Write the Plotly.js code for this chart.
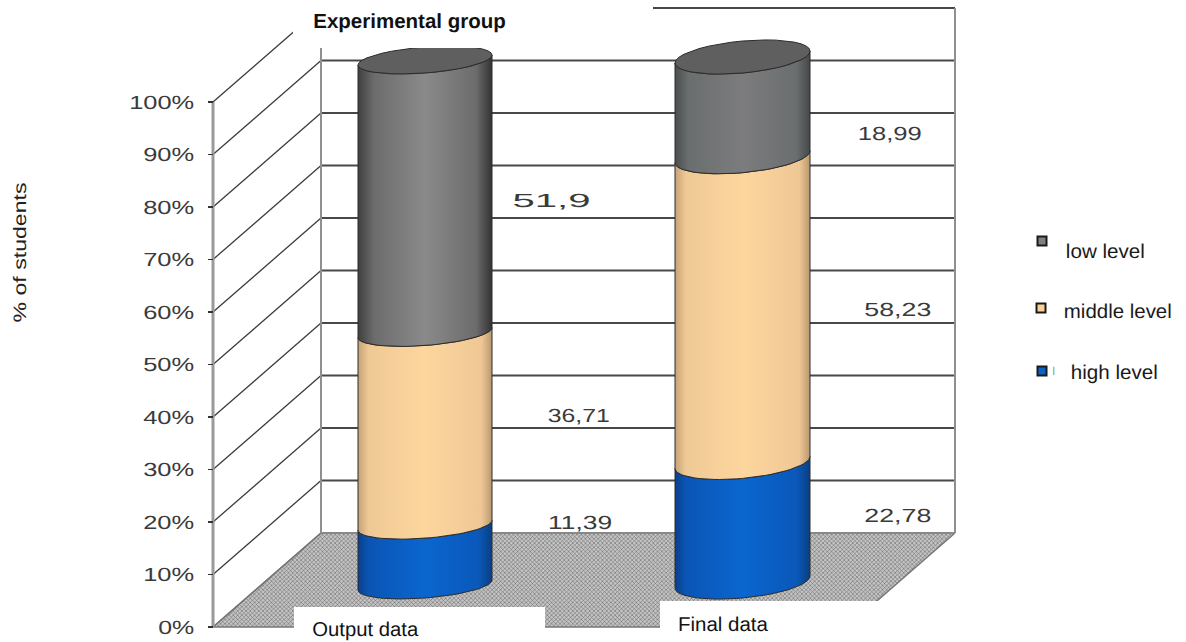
<!DOCTYPE html>
<html>
<head>
<meta charset="utf-8">
<script src="https://cdn.plot.ly/plotly-3.0.1.min.js"></script>
<style>html,body{margin:0;padding:0;background:#fff}#chart{width:1186px;height:642px}
#chart text{text-rendering:geometricPrecision}</style>
</head>
<body>
<div id="chart"></div>
<script>
// ---- data ----
const categories = ['Output data', 'Final data'];
const highLevel = [11.39, 22.78];
const middleLevel = [36.71, 58.23];
const lowLevel = [51.9, 18.99];
const tickValues = [0, 10, 20, 30, 40, 50, 60, 70, 80, 90, 100];
const tickLabels = ['0%', '10%', '20%', '30%', '40%', '50%', '60%', '70%', '80%', '90%', '100%'];
const seriesNames = ['high level', 'middle level', 'low level'];

// ---- page geometry (pixels on the 1186x642 page) ----
const Y0 = 627, PX_PER_PCT = 5.25;
const val = py => (Y0 - py) / PX_PER_PCT;      // page pixel -> axis value
const FRONT_X = 213, BACK_X = 321, RIGHT_X = 955;
const DEPTH = val(533);                        // rise of the back wall in axis units
const cyl = [
  {cx: 425, rx: 67, base: val(585), ry: 13 / PX_PER_PCT, tilt: 5 / PX_PER_PCT},
  {cx: 742.5, rx: 67.5, base: val(582), ry: 16 / PX_PER_PCT, tilt: 6 / PX_PER_PCT}
];

// ---- style ----
const wideFont = '"Liberation Sans",Arial,sans-serif';
const textFont = '"Liberation Sans",Arial,sans-serif';
const shades = [
  [[[0, '#0b3f8c'], [.08, '#0a55b5'], [.5, '#0a66cf'], [.9, '#0a58ba'], [1, '#0a3f80']],
   [[0, '#c4a276'], [.08, '#efc995'], [.5, '#fdd69e'], [.92, '#efc795'], [1, '#b8986e']],
   [[0, '#3f3f3f'], [.12, '#6c6c6c'], [.5, '#8a8a8a'], [.88, '#6c6c6c'], [1, '#333333']]],
  [[[0, '#0b3f8c'], [.08, '#0a55b5'], [.5, '#0a66cf'], [.9, '#0a58ba'], [1, '#0a3f80']],
   [[0, '#c4a276'], [.08, '#efc995'], [.5, '#fdd69e'], [.92, '#efc795'], [1, '#b8986e']],
   [[0, '#4a4e4e'], [.1, '#6a6e6e'], [.5, '#7c7c7e'], [.9, '#6a6e6e'], [1, '#454848']]]
];
const swatches = ['#0a62c6', '#fdd09a', '#808080'];
const capColor = '#5f5f5f';

const ellipsePts = (c, v, from, to) => {
  const xs = [], ys = [], n = 36;
  for (let i = 0; i <= n; i++) {
    const t = from + (to - from) * i / n;
    xs.push(c.cx + c.rx * Math.cos(t));
    ys.push(c.base + v + c.tilt * Math.cos(t) + c.ry * Math.sin(t));
  }
  return {xs, ys};
};

const traces = [];
// floor
traces.push({
  type: 'scatter', mode: 'lines', hoverinfo: 'skip', showlegend: false,
  x: [FRONT_X, BACK_X, RIGHT_X, RIGHT_X - (BACK_X - FRONT_X), FRONT_X],
  y: [0, DEPTH, DEPTH, 0, 0],
  fill: 'toself', fillcolor: '#a8a8a8',
  fillpattern: {shape: 'x', size: 3, solidity: 0.3, fgcolor: '#5a5a5a', bgcolor: '#c4c4c4'},
  line: {color: '#777777', width: 1.5}
});
// walls: grid lines run up the side wall and along the back wall
tickValues.forEach(v => {
  traces.push({
    type: 'scatter', mode: 'lines', hoverinfo: 'skip', showlegend: false,
    x: [FRONT_X, BACK_X], y: [v, v + DEPTH], line: {color: v ? '#3c3c3c' : '#777777', width: 1.3}
  });
  traces.push({
    type: 'scatter', mode: 'lines', hoverinfo: 'skip', showlegend: false,
    x: [BACK_X, RIGHT_X], y: [v + DEPTH, v + DEPTH], line: {color: v ? '#484848' : '#888888', width: v === 100 ? 2.2 : 1.8}
  });
});
[BACK_X, RIGHT_X].forEach(x => traces.push({
  type: 'scatter', mode: 'lines', hoverinfo: 'skip', showlegend: false,
  x: [x, x], y: [DEPTH, 100 + DEPTH], line: {color: '#8f8f8f', width: 2}
}));
traces.push({
  type: 'scatter', mode: 'lines', hoverinfo: 'skip', showlegend: false,
  x: [FRONT_X, FRONT_X], y: [0, 100], line: {color: '#9a9a9a', width: 3}
});
// cylinders
categories.forEach((cat, i) => {
  const c = cyl[i];
  const stack = [highLevel[i], middleLevel[i], lowLevel[i]];
  let lo = 0;
  stack.forEach((amount, s) => {
    const hi = lo + amount;
    const bottom = ellipsePts(c, lo, Math.PI, 2 * Math.PI);
    const top = ellipsePts(c, hi, 2 * Math.PI, Math.PI);
    traces.push({
      type: 'scatter', mode: 'lines', name: seriesNames[s], showlegend: false, hoverinfo: 'skip',
      x: bottom.xs.concat(top.xs, [bottom.xs[0]]),
      y: bottom.ys.concat(top.ys, [bottom.ys[0]]),
      fill: 'toself',
      fillgradient: {type: 'horizontal', colorscale: shades[i][s]},
      line: {color: '#2c2c2c', width: 1}
    });
    lo = hi;
  });
  const cap = ellipsePts(c, lo, 0, 2 * Math.PI);
  traces.push({
    type: 'scatter', mode: 'lines', showlegend: false, hoverinfo: 'skip',
    x: cap.xs, y: cap.ys, fill: 'toself', fillcolor: capColor, line: {color: '#2c2c2c', width: 1}
  });
});
// legend swatches
const legendItems = [
  {name: seriesNames[2], color: swatches[2], mx: 1042, my: 241, tx: 1105, ty: 251, w: 79},
  {name: seriesNames[1], color: swatches[1], mx: 1041, my: 308, tx: 1118, ty: 311, w: 108},
  {name: seriesNames[0], color: swatches[0], mx: 1042, my: 371, tx: 1114, ty: 372, w: 87}
];
legendItems.forEach(it => traces.push({
  type: 'scatter', mode: 'markers', showlegend: false, hoverinfo: 'skip', name: it.name,
  x: [it.mx], y: [val(it.my)],
  marker: {symbol: 'square', size: 9, color: it.color, line: {color: '#1a1a1a', width: 2}}
}));

// ---- text ----
const fmt = n => String(n).replace('.', ',');
const anns = [];
const addText = (text, cx, cy, size, family, color, width, extra) => anns.push(Object.assign({
  text, x: cx, y: val(cy), xref: 'x', yref: 'y', xanchor: 'center', yanchor: 'middle',
  showarrow: false, font: {size, family, color}, _w: width
}, extra || {}));

const valueLabelSpots = [
  [lowLevel[0], 551, 200, 78], [middleLevel[0], 579, 415, 62], [highLevel[0], 580, 522, 64],
  [lowLevel[1], 890, 133, 64], [middleLevel[1], 898, 309, 67], [highLevel[1], 898, 515, 67]
];
valueLabelSpots.forEach(s => addText(fmt(s[0]), s[1], s[2], 19, wideFont, '#3a3a3a', s[3]));
addText(categories[0], 365, 628.5, 20, textFont, '#111111', 106);
addText(categories[1], 723, 624, 20, textFont, '#111111', 90);
addText('% of students', 20, 253, 18, textFont, '#222222', 140, {textangle: -90});
legendItems.forEach(it => addText(it.name, it.tx, it.ty, 20, textFont, '#1a1a1a', it.w));
addText('I', 1053, 371, 12, textFont, '#555555', 2);

const layout = {
  width: 1186, height: 642,
  margin: {l: 0, r: 0, t: 0, b: 0},
  paper_bgcolor: '#ffffff', plot_bgcolor: 'rgba(0,0,0,0)',
  showlegend: false,
  title: {text: '<b>Experimental group</b>', x: 409.5 / 1186, xanchor: 'center', xref: 'paper',
          y: 1 - 21 / 642, yanchor: 'middle', yref: 'paper',
          font: {family: textFont, size: 20.5, color: '#111111'}},
  xaxis: {range: [0, 1186], visible: false, fixedrange: true},
  yaxis: {
    range: [val(642), val(0)], anchor: 'free', position: FRONT_X / 1186, side: 'left',
    tickmode: 'array', tickvals: tickValues, ticktext: tickLabels,
    showgrid: false, zeroline: false, showline: false,
    ticks: 'outside', ticklen: 5, tickwidth: 1.2, tickcolor: '#333333',
    ticklabelstandoff: 10,
    tickfont: {family: wideFont, size: 19, color: '#3a3a3a'}, fixedrange: true
  },
  shapes: [
    [293, 653, 0, 48], [294, 545, 607, 642], [660, 880, 601, 642]
  ].map(r => ({type: 'rect', layer: 'above', xref: 'x', yref: 'y',
    x0: r[0], x1: r[1], y0: val(r[2]), y1: val(r[3]),
    fillcolor: '#ffffff', line: {width: 0}})),
  annotations: anns
};

const stretch = (el, w) => {
  el.setAttribute('textLength', w);
  el.setAttribute('lengthAdjust', 'spacingAndGlyphs');
};
Plotly.newPlot('chart', traces, layout, {staticPlot: true, displayModeBar: false}).then(gd => {
  gd.querySelectorAll('.ytick text').forEach(el => {
    const t = el.textContent;
    stretch(el, t === '100%' ? 65 : t === '0%' ? 36 : 51);
  });
  gd.querySelectorAll('.annotation-text').forEach((el, i) => stretch(el, anns[i]._w));
});
</script>
</body>
</html>
